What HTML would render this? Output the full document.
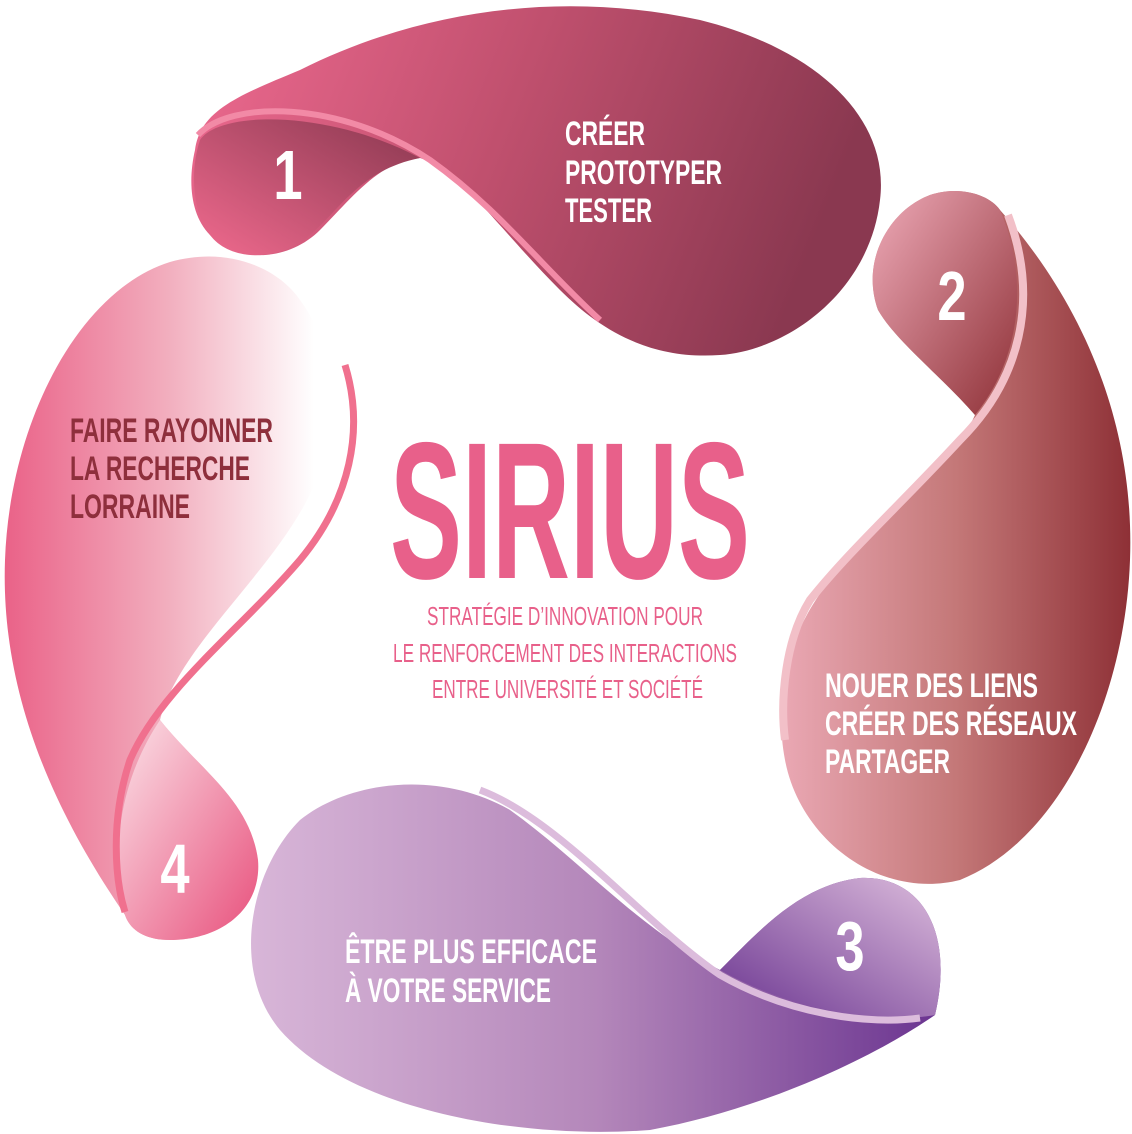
<!DOCTYPE html>
<html><head><meta charset="utf-8"><style>
html,body{margin:0;padding:0;background:#fff;}
svg{display:block;}
text{font-family:"Liberation Sans Narrow","Liberation Sans",sans-serif;font-weight:bold;}
</style></head><body>
<svg width="1132" height="1134" viewBox="0 0 1132 1134" xmlns="http://www.w3.org/2000/svg">
<defs>
<linearGradient id="g1" x1="0" y1="0" x2="1" y2="0.2"><stop offset="0" stop-color="#ee6a90"/><stop offset="0.5" stop-color="#c0506e"/><stop offset="1" stop-color="#8a3850"/></linearGradient>
<linearGradient id="g2" x1="0" y1="0" x2="1" y2="0"><stop offset="0" stop-color="#eaa8b4"/><stop offset="0.5" stop-color="#c47878"/><stop offset="1" stop-color="#8e3036"/></linearGradient>
<linearGradient id="g3" x1="0" y1="0" x2="1" y2="0"><stop offset="0" stop-color="#d8b6d8"/><stop offset="0.5" stop-color="#b487ba"/><stop offset="1" stop-color="#6a3490"/></linearGradient>
<linearGradient id="g4" x1="0" y1="0" x2="1" y2="0"><stop offset="0" stop-color="#ea6288"/><stop offset="0.5" stop-color="#f2aebe"/><stop offset="0.95" stop-color="#ffffff"/></linearGradient>
<linearGradient id="t1" x1="0" y1="1" x2="1" y2="0"><stop offset="0" stop-color="#f06a8e"/><stop offset="1" stop-color="#8a3850"/></linearGradient>
<linearGradient id="t2" x1="0" y1="0" x2="1" y2="1"><stop offset="0" stop-color="#eeaab8"/><stop offset="1" stop-color="#8e3036"/></linearGradient>
<linearGradient id="t3" x1="1" y1="0" x2="0" y2="1"><stop offset="0" stop-color="#dcbcdc"/><stop offset="1" stop-color="#6a3490"/></linearGradient>
<linearGradient id="t4" x1="0" y1="0" x2="1" y2="1"><stop offset="0" stop-color="#fbe2e8"/><stop offset="1" stop-color="#e8507c"/></linearGradient>
</defs>

<path d="M195,150 C200,110 240,95 300,70 C420,10 560,-10 700,20 C820,50 890,120 880,200 C870,290 790,350 720,355 C650,360 600,330 560,290 C500,230 460,170 420,158 C380,160 350,200 320,230 C290,260 240,265 210,235 C190,215 188,180 195,150 Z" fill="url(#g1)"/>
<path d="M200,140 C220,110 330,110 420,158 C360,170 340,210 310,235 C280,262 230,262 210,235 C192,212 190,170 200,140 Z" fill="url(#t1)"/>
<path d="M198,135 C230,100 340,100 430,160 C500,210 540,265 600,320" fill="none" stroke="#f28aa6" stroke-width="6"/>

<path d="M1000,210 C1080,300 1135,420 1130,560 C1125,700 1060,840 960,880 C880,900 800,840 785,760 C770,680 800,610 840,570 C900,505 960,450 975,415 C940,375 895,340 878,310 C860,260 890,210 930,195 C960,185 990,195 1000,210 Z" fill="url(#g2)"/>
<path d="M1000,210 C1030,280 1020,360 975,415 C940,375 895,340 878,310 C860,260 890,210 930,195 C960,185 990,195 1000,210 Z" fill="url(#t2)"/>
<path d="M1008,215 C1040,300 1020,380 960,440 C900,505 850,550 810,600 C785,640 780,700 785,740" fill="none" stroke="#f2c0c8" stroke-width="8"/>

<path d="M935,1015 C870,1060 760,1110 650,1130 C520,1140 350,1110 280,1030 C230,970 250,870 300,820 C350,780 440,770 510,810 C580,860 640,930 720,970 C760,930 800,885 860,878 C920,875 955,930 935,1015 Z" fill="url(#g3)"/>
<path d="M935,1015 C880,1025 790,1010 720,970 C760,930 800,885 860,878 C920,875 955,930 935,1015 Z" fill="url(#t3)"/>
<path d="M480,790 C560,820 640,920 720,975 C790,1015 870,1025 920,1018" fill="none" stroke="#dcbcdc" stroke-width="7"/>

<path d="M125,915 C60,820 0,700 5,560 C10,420 80,290 170,262 C230,245 280,270 300,300 C330,340 340,400 320,470 C290,560 180,640 160,720 C200,770 250,800 258,860 C262,910 220,940 170,940 C145,940 130,930 125,915 Z" fill="url(#g4)"/>
<path d="M125,915 C110,850 120,780 160,720 C200,770 250,800 258,860 C262,910 220,940 170,940 C145,940 130,930 125,915 Z" fill="url(#t4)"/>
<path d="M345,365 C365,430 350,500 300,560 C240,630 160,690 130,760 C110,820 115,880 125,912" fill="none" stroke="#f0708e" stroke-width="7"/>

<g fill="#fff" font-size="70" text-anchor="middle" style="font-weight:normal">
<text transform="translate(288,199) scale(0.75,1)">1</text>
<text transform="translate(952,320) scale(0.75,1)">2</text>
<text transform="translate(850,970) scale(0.75,1)">3</text>
<text transform="translate(175,893) scale(0.75,1)">4</text>
</g>

<g fill="#fff" font-size="34">
<text x="565" y="145" textLength="80" lengthAdjust="spacingAndGlyphs">CRÉER</text>
<text x="565" y="184" textLength="157" lengthAdjust="spacingAndGlyphs">PROTOTYPER</text>
<text x="565" y="222" textLength="87" lengthAdjust="spacingAndGlyphs">TESTER</text>
<text x="825" y="697" textLength="213" lengthAdjust="spacingAndGlyphs">NOUER DES LIENS</text>
<text x="825" y="735" textLength="252" lengthAdjust="spacingAndGlyphs">CRÉER DES RÉSEAUX</text>
<text x="825" y="773" textLength="125" lengthAdjust="spacingAndGlyphs">PARTAGER</text>
<text x="345" y="963" textLength="252" lengthAdjust="spacingAndGlyphs">ÊTRE PLUS EFFICACE</text>
<text x="345" y="1002" textLength="206" lengthAdjust="spacingAndGlyphs">À VOTRE SERVICE</text>
</g>
<g fill="#8e2f3c" font-size="34">
<text x="70" y="442" textLength="203" lengthAdjust="spacingAndGlyphs">FAIRE RAYONNER</text>
<text x="70" y="480" textLength="180" lengthAdjust="spacingAndGlyphs">LA RECHERCHE</text>
<text x="70" y="518" textLength="120" lengthAdjust="spacingAndGlyphs">LORRAINE</text>
</g>

<text x="390" y="578" font-size="195" fill="#e8608a" textLength="360" lengthAdjust="spacingAndGlyphs">SIRIUS</text>
<g fill="#e8608a" font-size="26">
<text x="427" y="625" textLength="276" lengthAdjust="spacingAndGlyphs" style="font-weight:normal">STRATÉGIE D’INNOVATION POUR</text>
<text x="393" y="662" textLength="344" lengthAdjust="spacingAndGlyphs" style="font-weight:normal">LE RENFORCEMENT DES INTERACTIONS</text>
<text x="432" y="698" textLength="271" lengthAdjust="spacingAndGlyphs" style="font-weight:normal">ENTRE UNIVERSITÉ ET SOCIÉTÉ</text>
</g>
</svg>
</body></html>
